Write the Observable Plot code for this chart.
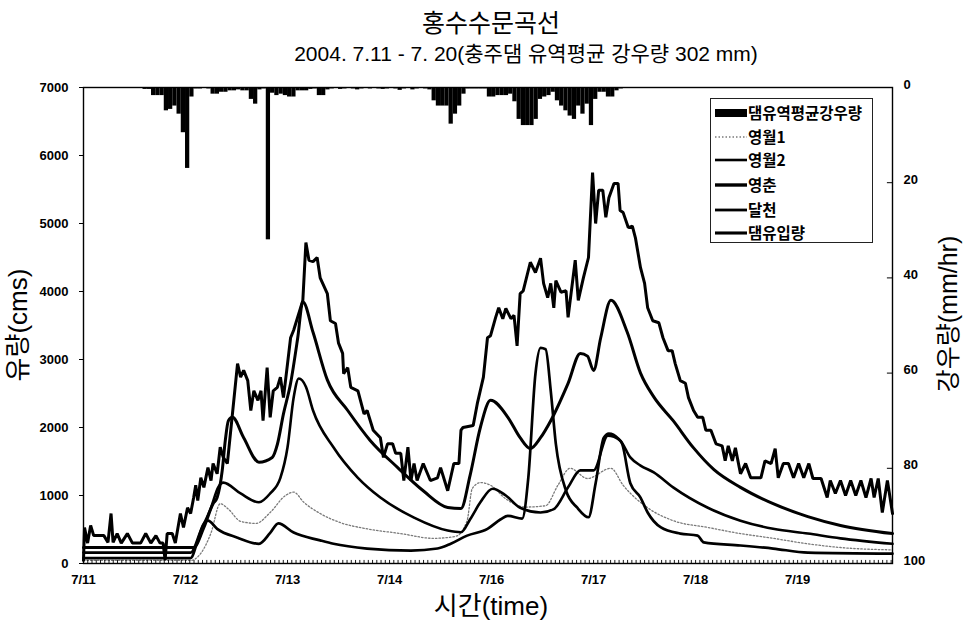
<!DOCTYPE html>
<html><head><meta charset="utf-8">
<script src="https://cdn.jsdelivr.net/npm/d3@7"></script>
<script src="https://cdn.jsdelivr.net/npm/@observablehq/plot@0.6"></script>
<style>
body{margin:0;background:#fff;font-family:"Liberation Sans","Noto Sans CJK KR",sans-serif;color:#000;}
#wrap{position:relative;width:965px;height:622px;overflow:hidden;}
#chart{position:absolute;left:0;top:0;}
.lab{position:absolute;white-space:nowrap;transform:translate(-50%,-50%);line-height:1;}
.rot{transform:translate(-50%,-50%) rotate(-90deg);}
#legend{position:absolute;left:710px;top:98px;}
</style></head><body>
<div id="wrap">
  <div id="chart"></div>
  <div class="lab" style="left:491px;top:21px;font-size:25px;font-family:'Noto Sans CJK KR';">홍수수문곡선</div>
  <div class="lab" style="left:526px;top:53px;font-size:21px;">2004. 7.11 - 7. 20(충주댐 유역평균 강우량 302 mm)</div>
  <div class="lab rot" style="left:18px;top:325px;font-size:26px;">유량(cms)</div>
  <div class="lab rot" style="left:948px;top:314px;font-size:25px;">강우량(mm/hr)</div>
  <div class="lab" style="left:491px;top:606px;font-size:26px;">시간(time)</div>
  <div id="legend"></div>
</div>
<script>
// x tick labels (one per day, as printed on the original axis)
const dayLabels = ["7/11","7/12","7/13","7/14","7/16","7/17","7/18","7/19"];
const flowTicks = [0,1000,2000,3000,4000,5000,6000,7000];
const rainTicks = [0,20,40,60,80,100];

// 댐유역평균강우량 [hour from 7/11 00:00, mm/hr]
const rain = [[14,0.4],[15,0.4],[16,1.7],[17,1.7],[18,1.7],[19,4.9],[20,4.6],[21,3.9],[22,5.6],[23,9.5],[24,17],[25,2],[26,0.3],[27,0.3],[28,0.2],[29,0.3],[30,1.4],[31,1.4],[32,1],[33,1],[34,0.7],[35,0.7],[36,0.5],[37,0.7],[38,0.7],[39,2.5],[40,3.5],[41,0.5],[42,0.3],[43,32],[44,1.2],[45,1.7],[46,1.4],[47,1.7],[48,2],[49,2],[50,0.7],[51,0.7],[52,0.7],[53,0.4],[54,0.3],[55,1.7],[56,1.7],[57,0.5],[58,0.3],[59,0.2],[60,0.4],[61,0.3],[62,0.2],[63,0.3],[64,0.5],[65,0.3],[66,0.2],[67,0.3],[68,0.2],[69,0.3],[70,0.4],[71,0.3],[72,0.2],[73,0.3],[74,0.6],[75,0.3],[76,0.2],[77,0.5],[78,0.3],[79,0.2],[80,0.3],[81,0.5],[82,2.8],[83,3.9],[84,3.9],[85,3.9],[86,7.7],[87,5.6],[88,3.9],[89,1.4],[90,0.3],[91,0.3],[92,0.3],[93,0.3],[94,0.3],[95,2],[96,2],[97,1.7],[98,1.7],[99,1.7],[100,1.4],[101,3],[102,6.7],[103,8],[104,8],[105,8],[106,6.7],[107,2.5],[108,2],[109,1.7],[110,1],[111,2.8],[112,3.9],[113,4.9],[114,6],[115,6.7],[116,3.9],[117,5.6],[118,3.5],[119,8],[120,2.5],[121,1],[122,1],[123,2],[124,2],[125,0.7],[126,0.3]];

// [day from 7/11 00:00, cms]
const yeongwol1 = [[0,45],[1.05,45],[1.15,150],[1.25,450],[1.34,880],[1.42,800],[1.54,620],[1.69,590],[1.83,750],[1.98,1000],[2.06,1050],[2.16,900],[2.32,735],[2.52,600],[2.78,510],[3.11,440],[3.43,370],[3.65,400],[3.76,630],[3.81,1100],[3.89,1190],[3.99,1150],[4.14,950],[4.33,830],[4.53,850],[4.65,1150],[4.77,1400],[4.94,1250],[5.17,1400],[5.29,1150],[5.53,820],[5.78,630],[6.12,530],[6.44,440],[6.76,370],[7.10,290],[7.42,235],[7.93,200]];

const yeongwol2 = [[0,160],[1.05,160],[1.15,485],[1.25,820],[1.32,1120],[1.37,1190],[1.54,1030],[1.72,900],[1.83,1030],[1.93,1260],[2.00,1710],[2.06,2440],[2.11,2720],[2.18,2600],[2.25,2250],[2.45,1710],[2.69,1260],[2.91,970],[3.24,675],[3.57,485],[3.70,460],[3.79,650],[3.89,900],[4.01,1100],[4.14,1000],[4.28,820],[4.48,750],[4.61,800],[4.75,1120],[4.87,1370],[5.00,1370],[5.14,1880],[5.26,1810],[5.36,1560],[5.46,1440],[5.59,1340],[5.78,1120],[6.12,820],[6.44,630],[6.76,510],[7.10,440],[7.42,370],[7.93,290]];

const yeongchun = [[0,235],[1.08,235],[1.18,530],[1.27,880],[1.31,970],[1.36,1370],[1.39,1810],[1.42,2100],[1.46,2150],[1.57,1850],[1.72,1490],[1.85,1560],[1.90,1750],[1.96,2200],[2.03,2650],[2.10,3320],[2.15,3850],[2.25,3400],[2.39,2700],[2.59,2250],[2.81,1810],[3.08,1410],[3.33,1070],[3.57,825],[3.70,810],[3.79,1300],[3.89,2000],[3.99,2400],[4.16,2150],[4.28,1850],[4.38,1690],[4.48,1850],[4.58,2100],[4.75,2650],[4.87,3090],[4.94,3050],[5.00,2840],[5.07,3320],[5.17,3870],[5.33,3400],[5.46,2800],[5.59,2450],[5.78,2100],[5.98,1700],[6.18,1380],[6.44,1120],[6.76,880],[7.10,690],[7.42,560],[7.93,440]];

const dalcheon = [[0,80],[1.05,80],[1.12,340],[1.17,560],[1.22,630],[1.31,510],[1.51,380],[1.72,290],[1.83,450],[1.91,590],[2.06,455],[2.32,340],[2.45,290],[2.78,220],[3.21,190],[3.47,220],[3.60,290],[3.76,410],[3.96,510],[4.09,650],[4.16,700],[4.30,660],[4.36,1260],[4.43,2790],[4.48,3170],[4.53,3150],[4.58,2540],[4.63,1760],[4.73,1070],[4.84,820],[4.95,680],[5.02,1180],[5.10,1850],[5.15,1910],[5.24,1840],[5.28,1760],[5.36,1180],[5.46,970],[5.53,750],[5.66,530],[5.85,440],[6.02,410],[6.08,310],[6.44,265],[6.76,220],[7.10,160],[7.93,145]];

const inflow = [[0,45],[0.01,530],[0.04,300],[0.07,560],[0.10,410],[0.20,410],[0.24,310],[0.27,735],[0.29,310],[0.33,440],[0.37,300],[0.43,440],[0.48,300],[0.56,300],[0.61,440],[0.66,300],[0.71,410],[0.75,300],[0.78,300],[0.80,50],[0.82,440],[0.87,440],[0.90,300],[0.95,735],[0.98,530],[1.02,820],[1.05,735],[1.08,970],[1.10,1150],[1.12,925],[1.15,1260],[1.18,1120],[1.22,1410],[1.25,1220],[1.27,1470],[1.31,1320],[1.34,1710],[1.37,1560],[1.41,1470],[1.46,2200],[1.51,2940],[1.54,2740],[1.57,2840],[1.61,2690],[1.64,2250],[1.67,2540],[1.71,2400],[1.74,2540],[1.76,2100],[1.80,2880],[1.83,2150],[1.86,2540],[1.90,2590],[1.93,2740],[1.96,2440],[2.00,2940],[2.03,3320],[2.06,3430],[2.15,3870],[2.18,4720],[2.21,4460],[2.25,4440],[2.29,4500],[2.32,4200],[2.39,3970],[2.42,3570],[2.47,3530],[2.50,3240],[2.54,3090],[2.55,2790],[2.59,2880],[2.62,2590],[2.69,2540],[2.75,2200],[2.78,2250],[2.84,1960],[2.91,1850],[2.94,1560],[2.98,1760],[3.03,1760],[3.06,1620],[3.11,1620],[3.14,1220],[3.18,1710],[3.21,1220],[3.24,1470],[3.27,1220],[3.33,1470],[3.40,1220],[3.47,1260],[3.50,1410],[3.57,1070],[3.63,1470],[3.68,1470],[3.70,1960],[3.72,2000],[3.82,2030],[3.86,2350],[3.92,2740],[3.96,3320],[3.99,3350],[4.04,3620],[4.07,3760],[4.11,3600],[4.14,3750],[4.19,3600],[4.22,3650],[4.25,3200],[4.28,3970],[4.31,4010],[4.38,4430],[4.43,4280],[4.48,4490],[4.51,4120],[4.55,3910],[4.58,4120],[4.61,3760],[4.63,4160],[4.68,3990],[4.73,4010],[4.75,3620],[4.82,4460],[4.85,3870],[4.90,4200],[4.95,4500],[4.99,5750],[5.02,5000],[5.05,5490],[5.09,5490],[5.12,5090],[5.15,5380],[5.20,5590],[5.24,5590],[5.26,5190],[5.29,5160],[5.34,4940],[5.38,4960],[5.41,4790],[5.46,4350],[5.50,4120],[5.53,3760],[5.58,3570],[5.64,3540],[5.68,3320],[5.73,3130],[5.77,3130],[5.80,2940],[5.85,2690],[5.90,2650],[5.93,2440],[5.98,2250],[6.02,2150],[6.07,2150],[6.10,1960],[6.15,1960],[6.20,1760],[6.26,1730],[6.29,1510],[6.32,1730],[6.36,1510],[6.39,1700],[6.44,1320],[6.49,1470],[6.54,1260],[6.64,1260],[6.68,1510],[6.74,1470],[6.78,1690],[6.81,1260],[6.86,1470],[6.91,1470],[6.96,1260],[7.01,1470],[7.06,1260],[7.11,1470],[7.15,1250],[7.23,1250],[7.29,970],[7.32,1220],[7.37,1030],[7.42,1220],[7.47,1000],[7.52,1220],[7.57,1000],[7.62,1220],[7.67,970],[7.72,1250],[7.75,970],[7.79,1250],[7.83,750],[7.88,1220],[7.93,735]];

const X_END = 7.93;
const Y_TOP = 7000;
const RAIN_MAX = 100;
const rainToY = r => Y_TOP - r * (Y_TOP / RAIN_MAX);   // rainfall axis: reversed, hanging from the top
const hours = d3.range(0, Math.floor(X_END * 24) + 1);

const font = "'Liberation Sans','Noto Sans CJK KR',sans-serif";
const lineOpts = {x: d => d[0], y: d => d[1]};

const chart = Plot.plot({
  width: 965, height: 622,
  marginLeft: 83, marginRight: 73, marginTop: 87, marginBottom: 59,
  style: {fontFamily: font, fontSize: "13px", background: "transparent", overflow: "visible", color: "#000"},
  x: {domain: [0, X_END], axis: null},
  y: {domain: [0, Y_TOP], axis: null},
  marks: [
    Plot.rect(rain, {x1: d => d[0] / 24, x2: d => (d[0] + 1) / 24, y1: Y_TOP, y2: d => rainToY(d[1]), fill: "#000"}),
    Plot.line(yeongwol1, {...lineOpts, stroke: "#7a7a7a", strokeWidth: 1.3, strokeDasharray: "1.5,2", curve: "monotone-x"}),
    Plot.line(dalcheon, {...lineOpts, stroke: "#000", strokeWidth: 2.7, curve: "monotone-x"}),
    Plot.line(yeongwol2, {...lineOpts, stroke: "#000", strokeWidth: 2.6, curve: "monotone-x"}),
    Plot.line(yeongchun, {...lineOpts, stroke: "#000", strokeWidth: 3, curve: "monotone-x"}),
    Plot.line(inflow, {...lineOpts, stroke: "#000", strokeWidth: 3, strokeLinejoin: "miter"}),
    Plot.ruleX(hours, {x: h => h / 24, y1: 0, y2: 45, stroke: "#000", strokeWidth: 0.9}),
    Plot.ruleY(rainTicks, {y: rainToY, x1: X_END - 0.05, x2: X_END, stroke: "#000", strokeWidth: 1}),
    Plot.frame({stroke: "#000", strokeWidth: 1.4}),
    Plot.axisY({anchor: "left", ticks: flowTicks, tickSize: 4, tickPadding: 11, label: null, fontSize: 13, fontWeight: "bold", tickFormat: d => String(d)}),
    Plot.axisY({anchor: "right", ticks: rainTicks.map(rainToY), tickSize: 0, tickPadding: 11, dy: -3, label: null, fontSize: 13, fontWeight: "bold", tickFormat: v => String(Math.round((Y_TOP - v) / (Y_TOP / RAIN_MAX)))}),
    Plot.axisX({ticks: d3.range(dayLabels.length), tickSize: 0, tickPadding: 11, label: null, fontSize: 13, fontWeight: "bold", tickFormat: i => dayLabels[i]})
  ]
});
document.getElementById("chart").appendChild(chart);

// legend
const legendItems = [
  {name: "댐유역평균강우량", kind: "bar"},
  {name: "영월1", stroke: "#7a7a7a", w: 1.3, dash: "1.5,2"},
  {name: "영월2", stroke: "#000", w: 2.6},
  {name: "영춘", stroke: "#000", w: 3.4},
  {name: "달천", stroke: "#000", w: 2.8},
  {name: "댐유입량", stroke: "#000", w: 3.1}
];
const lg = d3.select("#legend").append("svg").attr("width", 164).attr("height", 146);
lg.append("rect").attr("x", 0.5).attr("y", 0.5).attr("width", 162).attr("height", 144).attr("fill", "#fff").attr("stroke", "#222").attr("stroke-width", 1);
const rowY = [15, 39, 62, 87, 112, 135];
legendItems.forEach((it, i) => {
  const y = rowY[i];
  if (it.kind === "bar") {
    lg.append("rect").attr("x", 5).attr("y", y - 4).attr("width", 32).attr("height", 8).attr("fill", "#000");
  } else {
    lg.append("line").attr("x1", 5).attr("x2", 37).attr("y1", y).attr("y2", y)
      .attr("stroke", it.stroke).attr("stroke-width", it.w).attr("stroke-dasharray", it.dash || null);
  }
  lg.append("text").attr("x", 38).attr("y", y).attr("dy", "0.36em")
    .attr("font-family", "'Noto Sans CJK KR','Liberation Sans',sans-serif").attr("font-size", 15.5).attr("font-weight", "bold")
    .text(it.name);
});
</script>
</body></html>
